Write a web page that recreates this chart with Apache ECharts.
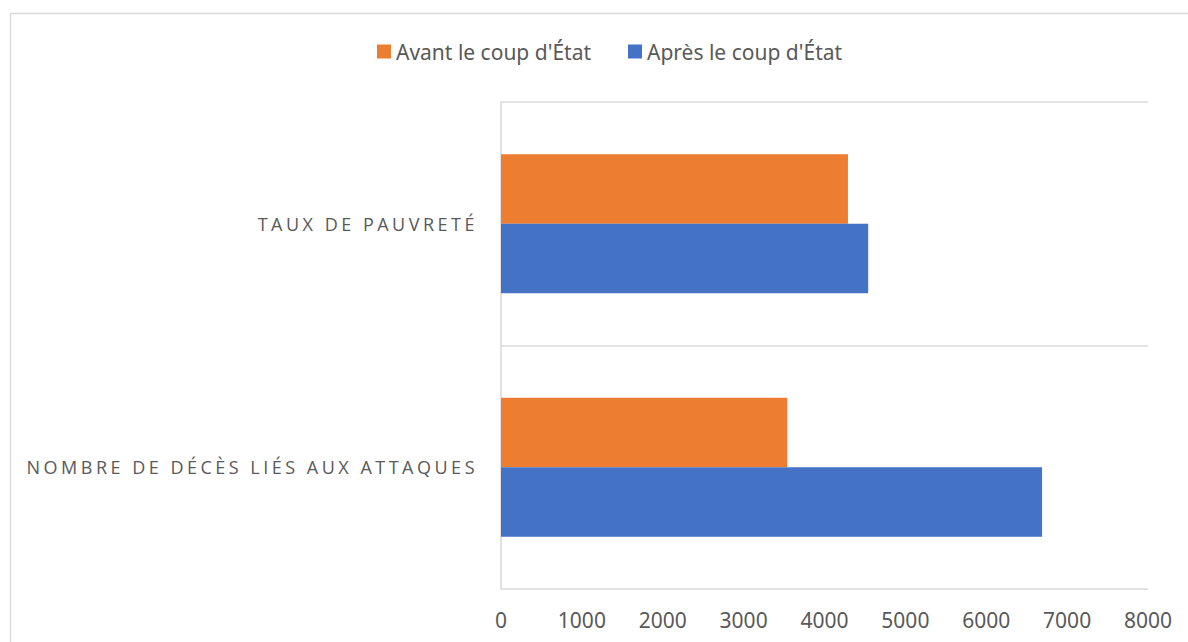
<!DOCTYPE html>
<html>
<head>
<meta charset="utf-8">
<script src="https://cdn.jsdelivr.net/npm/echarts@6/dist/echarts.min.js"></script>
<style>
html,body{margin:0;padding:0;background:#fff;}
#chart{width:1188px;height:642px;}
#chart text[style*="Open Sans"]{letter-spacing:3.5px;}
</style>
</head>
<body>
<div id="chart"></div>
<script>
const categories = ["NOMBRE DE DÉCÈS LIÉS AUX ATTAQUES", "TAUX DE PAUVRETÉ"];
const seriesNames = ["Avant le coup d'État", "Après le coup d'État"];
const avantValues = [3540, 4290];
const apresValues = [6690, 4540];
const xTicks = { min: 0, max: 8000, interval: 1000 };

const chart = echarts.init(document.getElementById('chart'), null, { renderer: 'svg' });
chart.setOption({
  animation: false,
  backgroundColor: '#ffffff',
  graphic: [{
    type: 'rect',
    shape: { x: 10.5, y: 13.5, width: 1300, height: 800 },
    style: { fill: 'none', stroke: '#d9d9d9', lineWidth: 1.5 },
    silent: true
  }],
  legend: {
    data: seriesNames,
    left: 372,
    top: 36,
    icon: 'rect',
    itemWidth: 14,
    itemHeight: 14,
    itemGap: 37,
    textStyle: { color: '#595959', fontSize: 21, fontFamily: 'Noto Sans', padding: [0, 0, 0, 0] }
  },
  grid: { left: 501, right: 40, top: 102, bottom: 53, containLabel: false },
  xAxis: {
    type: 'value',
    min: xTicks.min,
    max: xTicks.max,
    interval: xTicks.interval,
    axisLine: { show: false },
    axisTick: { show: false },
    splitLine: { show: false },
    axisLabel: { color: '#595959', fontSize: 21, fontFamily: 'Noto Sans', margin: 20, formatter: function (v) { return String(v); } }
  },
  yAxis: {
    type: 'category',
    data: categories,
    axisLine: { show: true, lineStyle: { color: '#d9d9d9', width: 1.5 } },
    axisTick: { show: false },
    splitLine: { show: true, lineStyle: { color: '#d9d9d9', width: 1.5 } },
    axisLabel: { color: '#595959', fontSize: 18, fontFamily: 'Open Sans', margin: 23 }
  },
  series: [
    {
      name: seriesNames[0],
      type: 'bar',
      data: avantValues,
      itemStyle: { color: '#ED7D31' },
      barGap: '0%',
      barCategoryGap: '43%'
    },
    {
      name: seriesNames[1],
      type: 'bar',
      data: apresValues,
      itemStyle: { color: '#4472C4' },
      barGap: '0%',
      barCategoryGap: '43%'
    }
  ]
});
</script>
</body>
</html>
